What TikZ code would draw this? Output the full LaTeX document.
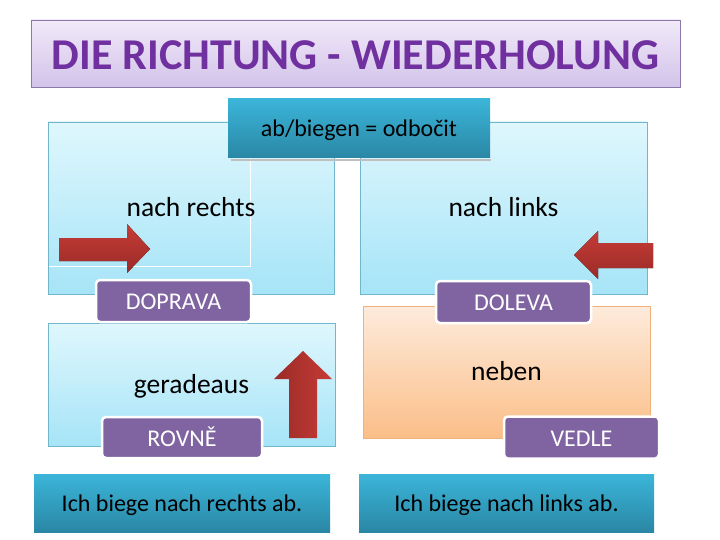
\documentclass[tikz,border=0pt]{standalone}
\usepackage{fontspec}
\setmainfont{Carlito}
\usepackage{tikz}
\usetikzlibrary{arrows.meta,positioning}
\definecolor{TitleInk}{HTML}{7030A0}
\definecolor{TitleTop}{HTML}{F1E9F9}
\definecolor{TitleBottom}{HTML}{D3C3E9}
\definecolor{TitleEdge}{HTML}{8A78A8}
\definecolor{TealTop}{HTML}{3BB5D9}
\definecolor{TealBottom}{HTML}{2A87A5}
\definecolor{SkyTop}{HTML}{DFF7FD}
\definecolor{SkyBottom}{HTML}{A6E4F7}
\definecolor{SkyEdge}{HTML}{72B6CB}
\definecolor{PeachTop}{HTML}{FDEBDC}
\definecolor{PeachBottom}{HTML}{FBBE88}
\definecolor{PeachEdge}{HTML}{EFB27A}
\definecolor{LabelPurple}{HTML}{8064A2}
\definecolor{ArrowDark}{HTML}{9A2B28}
\definecolor{ArrowLight}{HTML}{C63B36}

\begin{document}
\begin{tikzpicture}[x=1pt, y=-1pt, every node/.style={inner sep=0pt, text height=21pt, text depth=4pt}]
\useasboundingbox (0,0) rectangle (720,540);
\tikzset{
  skybox/.style={draw=SkyEdge, top color=SkyTop, bottom color=SkyBottom, font=\fontsize{27.5}{30}\selectfont},
  tealbox/.style={top color=TealTop, bottom color=TealBottom, font=\fontsize{24}{28}\selectfont},
  tagbox/.style={draw=white, line width=2.5pt, fill=LabelPurple, rounded corners=4pt, text=white, font=\fontsize{24}{28}\selectfont, minimum width=155pt, minimum height=42pt},
  redarrow/.style={top color=ArrowLight, bottom color=ArrowDark}
}
% title
\node[draw=TitleEdge, top color=TitleTop, bottom color=TitleBottom, minimum width=649pt, minimum height=67pt, text height=36pt, text depth=3pt, text=TitleInk, font=\fontsize{44}{48}\bfseries\selectfont] (title) at (355.5,53.5) {DIE RICHTUNG - WIEDERHOLUNG};
% four boxes
\node[skybox, minimum width=286pt, minimum height=172pt, path picture={\draw[white, line width=0.8pt] ([yshift=28pt]path picture bounding box.south west) -- ([xshift=202pt, yshift=28pt]path picture bounding box.south west) -- ([xshift=202pt]path picture bounding box.north west);}] (rechts) at (191,208) {nach rechts};
\node[skybox, minimum width=287pt, minimum height=172pt] (links) at (503.5,208) {nach links};
\node[skybox, minimum width=287pt, minimum height=123pt] (gerade) at (191.5,384.5) {geradeaus};
\node[draw=PeachEdge, top color=PeachTop, bottom color=PeachBottom, minimum width=287pt, minimum height=132pt, font=\fontsize{27.5}{30}\selectfont] (neben) at (506.5,372) {neben};
\fill[black!25] (231,159) rectangle (491,161);
\node[tealbox, minimum width=262pt, minimum height=59pt] (biegen) at (359,128.5) {ab/biegen = odbočit};
% arrows
\fill[redarrow] (59,238) -- (127,238) -- (127,224) -- (150,249) -- (127,273) -- (127,261) -- (59,261) -- cycle;
\fill[redarrow] (653,243) -- (598,243) -- (598,231) -- (574,255) -- (598,279) -- (598,268) -- (653,268) -- cycle;
\shade[left color=ArrowDark, right color=ArrowLight] (289,438) -- (289,379) -- (274,379) -- (303,351) -- (332,379) -- (317,379) -- (317,438) -- cycle;
% labels
\node[tagbox] (doprava) at (173.5,301) {DOPRAVA};
\node[tagbox] (doleva) at (513.5,302) {DOLEVA};
\node[tagbox, minimum width=160pt, minimum height=41pt] (rovne) at (182,437.5) {ROVNĚ};
\node[tagbox] (vedle) at (581.5,437.5) {VEDLE};
% sentences
\node[tealbox, minimum width=296pt, minimum height=58pt] (satzr) at (182,503) {Ich biege nach rechts ab.};
\node[tealbox, minimum width=295pt, minimum height=58pt] (satzl) at (506.5,503) {Ich biege nach links ab.};
\end{tikzpicture}
\end{document}
